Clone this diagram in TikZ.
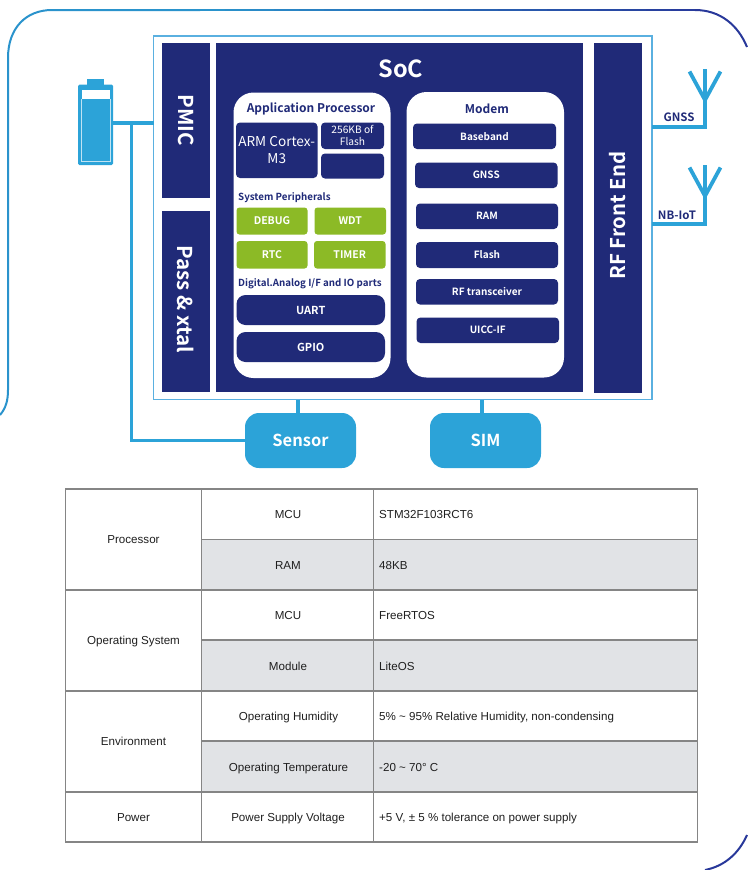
\documentclass[tikz,border=0pt]{standalone}
\usepackage{fontspec}
\usepackage{graphicx}
\setmainfont{Noto Sans CJK SC}[BoldFont={Noto Sans CJK SC Bold}]
\newfontfamily\tblfont{Liberation Sans}
\definecolor{navy}{HTML}{202A78}
\definecolor{leaf}{HTML}{8CBA26}
\definecolor{sky}{HTML}{2CA3D8}
\definecolor{thinblue}{HTML}{5AB0E0}
\definecolor{rowgray}{HTML}{E1E3E6}
\definecolor{tblrule}{HTML}{858585}
\definecolor{edgeA}{HTML}{2A93CC}
\definecolor{edgeB}{HTML}{28389A}
\newcommand{\bx}[7][]{%
  \pgfmathsetmacro{\bxcx}{(#3+#5)/2}%
  \pgfmathsetmacro{\bxcy}{(#4+#6)/2}%
  \pgfmathsetmacro{\bxw}{#5-#3}%
  \pgfmathsetmacro{\bxh}{#6-#4}%
  \node[#1,minimum width=\bxw pt,minimum height=\bxh pt] (#2) at (\bxcx,\bxcy) {#7};}
\newcommand{\tc}[4]{\node[tbl] (#1) at (#2,#3) {#4};}
\tikzset{
  base/.style={inner sep=0pt,outer sep=0pt,align=center},
  navybox/.style={base,fill=navy,text=white,font=\bfseries},
  sidebox/.style={navybox,font=\bfseries\fontsize{20.5}{24}\selectfont},
  roundnavy/.style={navybox,rounded corners=4pt,font=\bfseries\fontsize{10}{12.5}\selectfont},
  greenbox/.style={base,fill=leaf,text=white,rounded corners=3pt,font=\bfseries\fontsize{10.5}{12}\selectfont},
  whitebox/.style={base,fill=white,rounded corners=20pt},
  bluebox/.style={base,fill=sky,text=white,rounded corners=14pt,font=\bfseries\fontsize{16.5}{18}\selectfont},
  heading/.style={inner sep=0pt,text=navy,font=\bfseries\fontsize{12}{14}\selectfont},
  subheading/.style={inner sep=0pt,anchor=west,text=navy,font=\bfseries\fontsize{9.75}{12}\selectfont},
  wire/.style={draw=sky,line width=3.6pt},
  tbl/.style={inner sep=0pt,text=black!88,text height=8.3pt,text depth=0pt,font=\tblfont\fontsize{11.6}{14}\selectfont},
  tblleft/.style={tbl,anchor=west},
  tline/.style={draw=tblrule,line width=1.3pt},
}
\begin{document}
\begin{tikzpicture}[x=1pt,y=-1pt]
\useasboundingbox (0,0) rectangle (747,870);
% outer frame
\draw[edgeA,line width=2pt] (0,415) .. controls (6,408) and (8,400) .. (8,390) -- (8,58) .. controls (8,28) and (26,10) .. (52,10) -- (200,10);
\foreach \i in {0,...,19}{
  \pgfmathsetmacro{\pc}{\i*5}
  \pgfmathsetmacro{\xa}{200+\i*24.8}
  \pgfmathsetmacro{\xb}{200+(\i+1)*24.8+.4}
  \colorlet{segcol}{edgeB!\pc!edgeA}
  \draw[segcol,line width=2pt] (\xa,10) -- (\xb,10);
}
\draw[edgeB,line width=2pt] (695,10) .. controls (720,10) and (738,25) .. (747,47);
\draw[edgeB,line width=2pt] (747,835) .. controls (739,853) and (725,866) .. (705,870);
% board
\bx[base,draw=thinblue,line width=1.5pt]{board}{153.5}{36}{652}{399.5}{}
\bx[sidebox]{pmic}{161.5}{43}{210}{198}{\rotatebox{-90}{PMIC}}
\bx[sidebox]{pass}{161.5}{211}{210}{391.5}{\rotatebox{-90}{Pass \& xtal\hspace{4pt}}}
\bx[navybox]{soc}{216}{43}{582.5}{391.5}{}
\node[inner sep=0pt,text=white,font=\bfseries\fontsize{23.5}{28}\selectfont] (soclabel) at (401,69) {SoC};
\bx[navybox,font=\bfseries\fontsize{20.3}{24}\selectfont]{rf}{593.5}{42.5}{641.5}{392.5}{\rotatebox{90}{\hspace{4pt}RF Front End}}
% application processor
\bx[whitebox]{ap}{233.5}{92.5}{390.5}{378}{}
\node[heading] (aptitle) at (311,109) {Application Processor};
\bx[roundnavy,font=\fontsize{13.6}{16.5}\selectfont]{arm}{236}{122.5}{317.5}{178}{ARM Cortex-\\M3}
\bx[roundnavy,font=\fontsize{10.2}{12}\selectfont]{flash}{321}{122.5}{384}{149}{256KB of\\Flash}
\bx[roundnavy]{blank}{321}{153.5}{384}{178.5}{}
\node[subheading] (syslabel) at (238,198) {System Peripherals};
\bx[greenbox]{debug}{236.5}{207.5}{307.5}{234.5}{DEBUG}
\bx[greenbox]{wdt}{314.5}{207.5}{386}{234.5}{WDT}
\bx[greenbox]{rtc}{236.5}{241}{307.5}{268.5}{RTC}
\bx[greenbox]{timer}{314}{241}{385.5}{268.5}{TIMER}
\node[subheading] (diglabel) at (238,284) {Digital.Analog I/F and IO parts};
\bx[roundnavy,rounded corners=9pt,font=\bfseries\fontsize{11}{13}\selectfont]{uart}{236.5}{295}{385}{325}{UART}
\bx[roundnavy,rounded corners=9pt,font=\bfseries\fontsize{11}{13}\selectfont]{gpio}{236.5}{332}{385}{362}{GPIO}
% modem
\bx[whitebox]{modem}{406.5}{92}{564}{377.5}{}
\node[heading] (modemtitle) at (487,109) {Modem};
\bx[roundnavy]{bb}{413}{123.5}{556}{149}{Baseband}
\bx[roundnavy]{gnssb}{415}{162.5}{557.5}{188}{GNSS}
\bx[roundnavy]{ram}{416}{203.5}{558}{229}{RAM}
\bx[roundnavy]{mflash}{416}{242}{558}{268}{Flash}
\bx[roundnavy]{trans}{416}{279}{558}{304.5}{RF transceiver}
\bx[roundnavy]{uicc}{416.5}{317.5}{559}{343}{UICC-IF}
% sensor, sim
\bx[bluebox]{sensor}{245}{413}{356}{468}{Sensor}
\bx[bluebox]{sim}{430}{413}{541}{468}{SIM}
% battery
\bx[base,fill=sky]{nub}{87}{79}{104}{85}{}
\bx[base,fill=sky,rounded corners=1.5pt]{batt}{78}{84.5}{113}{165}{}
\fill[white] (81.5,90) rectangle (109.5,99);
\draw[white!70!sky,line width=1pt] (81,99) -- (81,161.5) -- (110,161.5) -- (110,99);
% wires
\coordinate (tap) at (131.5,123);
\coordinate (sensorlink) at (298,430);
\coordinate (simlink) at (482,430);
\draw[wire] (batt.east |- tap) -- (board.west |- tap);
\draw[wire] (tap) |- (sensor.west);
\draw[wire,line width=4pt] (board.south -| sensorlink) -- (sensor.north -| sensorlink);
\draw[wire,line width=4pt] (board.south -| simlink) -- (sim.north -| simlink);
% antennas
\coordinate (g1) at (705,127);
\coordinate (n1) at (705,224);
\draw[wire,line join=miter] (board.east |- g1) -- (g1) -- (705,69);
\draw[wire,line width=3.8pt] (689.5,71.5) -- (705,100) -- (720.5,71.5);
\draw[wire,line join=miter] (board.east |- n1) -- (n1) -- (705,165);
\draw[wire,line width=3.8pt] (689.5,167.5) -- (705,196) -- (720.5,167.5);
\node[inner sep=0pt,text=navy,font=\bfseries\fontsize{11.5}{13}\selectfont] (gnsslabel) at (679,117) {GNSS};
\node[inner sep=0pt,text=navy,font=\bfseries\fontsize{11.5}{13}\selectfont] (nblabel) at (677,215) {NB-IoT};
% table
\fill[rowgray] (201.5,539.5) rectangle (697.5,590);
\fill[rowgray] (201.5,640) rectangle (697.5,691);
\fill[rowgray] (201.5,741) rectangle (697.5,792);
\draw[tline] (65.5,489) rectangle (697.5,842);
\draw[tline] (201.5,489) -- (201.5,842);
\draw[tline] (373.5,489) -- (373.5,842);
\foreach \yy in {590,691,792}{\draw[tline] (65.5,\yy) -- (697.5,\yy);}
\foreach \yy in {539.5,640,741}{\draw[tline] (201.5,\yy) -- (697.5,\yy);}
\tc{t1}{133.5}{539.5}{Processor}
\tc{t2}{133.5}{640}{Operating System}
\tc{t3}{133.5}{741}{Environment}
\tc{t4}{133.5}{817}{Power}
\tc{c1}{288}{514}{MCU}
\tc{c2}{288}{565}{RAM}
\tc{c3}{288}{615}{MCU}
\tc{c4}{288}{666}{Module}
\tc{c5}{288.5}{716}{Operating Humidity}
\tc{c6}{288.5}{767}{Operating Temperature}
\tc{c7}{288}{817}{Power Supply Voltage}
\node[tblleft] (d1) at (379,514) {STM32F103RCT6};
\node[tblleft] (d2) at (379,565) {48KB};
\node[tblleft] (d3) at (379,615) {FreeRTOS};
\node[tblleft] (d4) at (379,666) {LiteOS};
\node[tblleft] (d5) at (379,716) {5\% \textasciitilde{} 95\% Relative Humidity, non-condensing};
\node[tblleft] (d6) at (379,767) {-20 \textasciitilde{} 70° C};
\node[tblleft] (d7) at (379,817) {+5 V, ± 5 \% tolerance on power supply};
\end{tikzpicture}
\end{document}
